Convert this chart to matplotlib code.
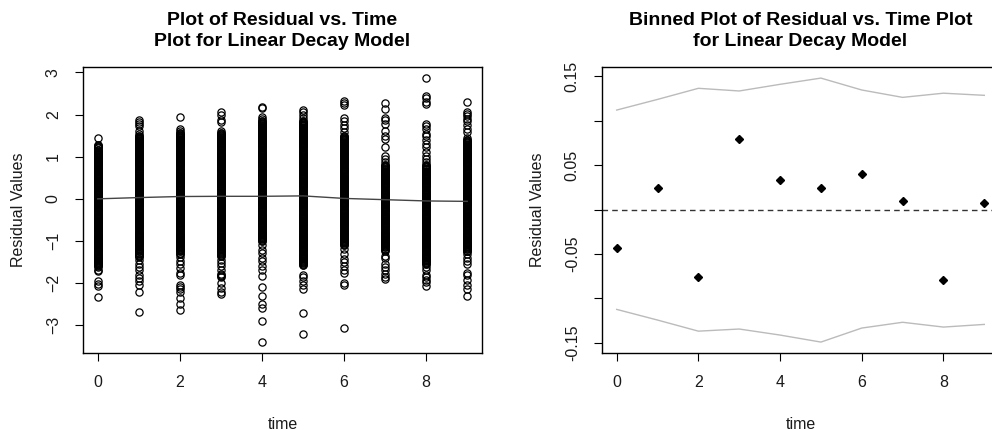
import numpy as np
import matplotlib
matplotlib.use('Agg')
import matplotlib.pyplot as plt

plt.rcParams['font.family'] = ['Liberation Sans', 'DejaVu Sans']

# residuals, one list per time value (outliers and spread)
res_t0 = [1.45, 1.27, 1.22, 1.17, 1.12, 1.06, 1.01, 0.96, 0.91, 0.85, 0.80, 0.75, 0.70, 0.64, 0.59, 0.54,
          0.49, 0.43, 0.38, 0.33, 0.28, 0.22, 0.17, 0.12, 0.07, 0.01, -0.04, -0.09, -0.14, -0.20, -0.25,
          -0.30, -0.35, -0.41, -0.46, -0.51, -0.56, -0.62, -0.67, -0.72, -0.77, -0.83, -0.88, -0.93, -0.98,
          -1.04, -1.09, -1.14, -1.19, -1.25, -1.30, -1.35, -1.40, -1.46, -1.51, -1.56, -1.61, -1.68, -1.72,
          -1.95, -2.01, -2.06, -2.32]
res_t1 = [1.88, 1.83, 1.78, 1.72, 1.62, 1.55, 1.50, 1.45, 1.40, 1.34, 1.29, 1.24, 1.19, 1.13, 1.08, 1.03,
          0.98, 0.92, 0.87, 0.82, 0.77, 0.71, 0.66, 0.61, 0.56, 0.50, 0.45, 0.40, 0.35, 0.29, 0.24, 0.19,
          0.14, 0.08, 0.03, -0.02, -0.07, -0.13, -0.18, -0.23, -0.28, -0.34, -0.39, -0.44, -0.49, -0.55,
          -0.60, -0.65, -0.70, -0.76, -0.81, -0.86, -0.91, -0.97, -1.02, -1.07, -1.12, -1.18, -1.23, -1.28,
          -1.35, -1.38, -1.45, -1.55, -1.62, -1.70, -1.80, -1.88, -1.95, -2.04, -2.22, -2.68]
res_t2 = [1.94, 1.66, 1.61, 1.56, 1.51, 1.46, 1.40, 1.35, 1.30, 1.25, 1.19, 1.14, 1.09, 1.04, 0.98, 0.93,
          0.88, 0.83, 0.77, 0.72, 0.67, 0.62, 0.56, 0.51, 0.46, 0.41, 0.35, 0.30, 0.25, 0.20, 0.14, 0.09,
          0.04, -0.01, -0.07, -0.12, -0.17, -0.22, -0.28, -0.33, -0.38, -0.43, -0.49, -0.54, -0.59, -0.64,
          -0.70, -0.75, -0.80, -0.85, -0.91, -0.96, -1.01, -1.06, -1.12, -1.17, -1.22, -1.30, -1.38, -1.47,
          -1.55, -1.65, -1.76, -1.80, -2.05, -2.10, -2.15, -2.20, -2.35, -2.50, -2.64]
res_t3 = [2.05, 1.98, 1.88, 1.82, 1.62, 1.57, 1.52, 1.47, 1.41, 1.36, 1.31, 1.26, 1.20, 1.15, 1.10, 1.05,
          0.99, 0.94, 0.89, 0.84, 0.78, 0.73, 0.68, 0.63, 0.57, 0.52, 0.47, 0.42, 0.36, 0.31, 0.26, 0.21,
          0.15, 0.10, 0.05, 0.00, -0.06, -0.11, -0.16, -0.21, -0.27, -0.32, -0.37, -0.42, -0.48, -0.53,
          -0.58, -0.63, -0.69, -0.74, -0.79, -0.84, -0.90, -0.95, -1.00, -1.05, -1.11, -1.16, -1.21, -1.27,
          -1.35, -1.45, -1.52, -1.60, -1.70, -1.78, -1.85, -2.00, -2.12, -2.20, -2.26]
res_t4 = [2.18, 2.15, 1.95, 1.90, 1.85, 1.80, 1.74, 1.69, 1.64, 1.59, 1.53, 1.48, 1.43, 1.38, 1.32, 1.27,
          1.22, 1.17, 1.11, 1.06, 1.01, 0.96, 0.90, 0.85, 0.80, 0.75, 0.69, 0.64, 0.59, 0.54, 0.48, 0.43,
          0.38, 0.33, 0.27, 0.22, 0.17, 0.12, 0.06, 0.01, -0.04, -0.09, -0.15, -0.20, -0.25, -0.30, -0.36,
          -0.41, -0.46, -0.51, -0.57, -0.62, -0.67, -0.72, -0.78, -0.83, -0.88, -0.93, -1.00, -1.10, -1.22,
          -1.28, -1.40, -1.48, -1.60, -1.68, -1.84, -2.10, -2.30, -2.50, -2.60, -2.90, -3.40]
res_t5 = [2.11, 2.05, 1.98, 1.92, 1.85, 1.80, 1.75, 1.69, 1.64, 1.59, 1.54, 1.48, 1.43, 1.38, 1.33, 1.27,
          1.22, 1.17, 1.12, 1.06, 1.01, 0.96, 0.91, 0.85, 0.80, 0.75, 0.70, 0.64, 0.59, 0.54, 0.49, 0.43,
          0.38, 0.33, 0.28, 0.22, 0.17, 0.12, 0.07, 0.01, -0.04, -0.09, -0.14, -0.20, -0.25, -0.30, -0.35,
          -0.41, -0.46, -0.51, -0.56, -0.62, -0.67, -0.72, -0.77, -0.83, -0.88, -0.93, -0.98, -1.04, -1.09,
          -1.14, -1.19, -1.25, -1.30, -1.35, -1.40, -1.46, -1.51, -1.57, -1.80, -1.86, -1.95, -2.05, -2.13,
          -2.70, -3.21]
res_t6 = [2.33, 2.28, 2.23, 1.92, 1.85, 1.75, 1.68, 1.58, 1.50, 1.45, 1.39, 1.34, 1.29, 1.24, 1.18, 1.13,
          1.08, 1.03, 0.97, 0.92, 0.87, 0.82, 0.76, 0.71, 0.66, 0.61, 0.55, 0.50, 0.45, 0.40, 0.34, 0.29,
          0.24, 0.19, 0.13, 0.08, 0.03, -0.02, -0.08, -0.13, -0.18, -0.23, -0.29, -0.34, -0.39, -0.44,
          -0.50, -0.55, -0.60, -0.65, -0.71, -0.76, -0.81, -0.86, -0.92, -0.97, -1.02, -1.10, -1.20, -1.30,
          -1.42, -1.50, -1.60, -1.68, -1.75, -2.00, -2.05, -3.07]
res_t7 = [2.27, 2.14, 1.92, 1.86, 1.78, 1.62, 1.48, 1.42, 1.22, 1.02, 0.95, 0.88, 0.80, 0.75, 0.69, 0.64,
          0.59, 0.54, 0.48, 0.43, 0.38, 0.33, 0.27, 0.22, 0.17, 0.12, 0.06, 0.01, -0.04, -0.09, -0.15,
          -0.20, -0.25, -0.30, -0.36, -0.41, -0.46, -0.51, -0.57, -0.62, -0.67, -0.72, -0.78, -0.83, -0.88,
          -0.93, -0.99, -1.04, -1.09, -1.14, -1.22, -1.35, -1.40, -1.55, -1.62, -1.70, -1.78, -1.86, -1.91]
res_t8 = [2.86, 2.45, 2.39, 2.29, 2.25, 1.78, 1.72, 1.66, 1.55, 1.48, 1.40, 1.30, 1.22, 1.12, 1.02, 0.95,
          0.88, 0.80, 0.75, 0.70, 0.64, 0.59, 0.54, 0.49, 0.43, 0.38, 0.33, 0.28, 0.22, 0.17, 0.12, 0.07,
          0.01, -0.04, -0.09, -0.14, -0.20, -0.25, -0.30, -0.35, -0.41, -0.46, -0.51, -0.56, -0.62, -0.67,
          -0.72, -0.77, -0.83, -0.88, -0.93, -0.98, -1.04, -1.09, -1.14, -1.19, -1.25, -1.30, -1.35, -1.40,
          -1.46, -1.55, -1.62, -1.68, -1.80, -1.86, -1.92, -1.98, -2.06]
res_t9 = [2.30, 2.06, 2.02, 1.96, 1.90, 1.84, 1.75, 1.65, 1.58, 1.45, 1.40, 1.35, 1.29, 1.24, 1.19, 1.14,
          1.08, 1.03, 0.98, 0.93, 0.87, 0.82, 0.77, 0.72, 0.66, 0.61, 0.56, 0.51, 0.45, 0.40, 0.35, 0.30,
          0.24, 0.19, 0.14, 0.09, 0.03, -0.02, -0.07, -0.12, -0.18, -0.23, -0.28, -0.33, -0.39, -0.44,
          -0.49, -0.54, -0.60, -0.65, -0.70, -0.75, -0.81, -0.86, -0.91, -0.96, -1.02, -1.07, -1.12, -1.17,
          -1.25, -1.32, -1.40, -1.48, -1.55, -1.75, -1.82, -1.92, -2.05, -2.15, -2.30]

# the solid black cores of each column, where the circles pile on top of each other
core_t0 = [1.27, 1.25, 1.22, 1.20, 1.17, 1.15, 1.12, 1.10, 1.07, 1.05, 1.02,
           1.00, 0.97, 0.95, 0.92, 0.90, 0.87, 0.85, 0.82, 0.80, 0.77, 0.75, 0.72, 0.70, 0.67, 0.65, 0.62,
           0.60, 0.57, 0.55, 0.52, 0.50, 0.47, 0.45, 0.42, 0.40, 0.37, 0.35, 0.32, 0.30, 0.27, 0.25, 0.22,
           0.20, 0.17, 0.15, 0.12, 0.10, 0.07, 0.05, 0.02,
           0.00, -0.03, -0.05, -0.08, -0.10, -0.13, -0.15, -0.18, -0.20, -0.23, -0.25, -0.28, -0.30, -0.33,
           -0.35, -0.38, -0.40, -0.43, -0.45, -0.48, -0.50, -0.53, -0.55, -0.58, -0.60, -0.63, -0.65, -0.68,
           -0.70, -0.73, -0.75, -0.78, -0.80, -0.83, -0.85, -0.88, -0.90, -0.93, -0.95, -0.98,
           -1.00, -1.03, -1.05, -1.08, -1.10, -1.13, -1.15, -1.18, -1.20, -1.23, -1.25, -1.28, -1.30, -1.33,
           -1.35, -1.38, -1.40, -1.43, -1.45, -1.48, -1.50, -1.53, -1.55, -1.58, -1.60]
core_t1 = [1.50, 1.47, 1.45, 1.42, 1.40, 1.37, 1.35, 1.32, 1.30, 1.27, 1.25, 1.22, 1.20, 1.17, 1.15, 1.12,
           1.10, 1.07, 1.05, 1.02,
           1.00, 0.97, 0.95, 0.92, 0.90, 0.87, 0.85, 0.82, 0.80, 0.77, 0.75, 0.72, 0.70, 0.67, 0.65, 0.62,
           0.60, 0.57, 0.55, 0.52, 0.50, 0.47, 0.45, 0.42, 0.40, 0.37, 0.35, 0.32, 0.30, 0.27, 0.25, 0.22,
           0.20, 0.17, 0.15, 0.12, 0.10, 0.07, 0.05, 0.02,
           0.00, -0.03, -0.05, -0.08, -0.10, -0.13, -0.15, -0.18, -0.20, -0.23, -0.25, -0.28, -0.30, -0.33,
           -0.35, -0.38, -0.40, -0.43, -0.45, -0.48, -0.50, -0.53, -0.55, -0.58, -0.60, -0.63, -0.65, -0.68,
           -0.70, -0.73, -0.75, -0.78, -0.80, -0.83, -0.85, -0.88, -0.90, -0.93, -0.95, -0.98,
           -1.00, -1.03, -1.05, -1.08, -1.10, -1.13, -1.15, -1.18, -1.20, -1.23, -1.25, -1.28, -1.30, -1.33,
           -1.35]
core_t2 = [1.57, 1.55, 1.52, 1.50, 1.47, 1.45, 1.42, 1.40, 1.37, 1.35, 1.32, 1.30, 1.27, 1.25, 1.22, 1.20,
           1.17, 1.15, 1.12, 1.10, 1.07, 1.05, 1.02,
           1.00, 0.97, 0.95, 0.92, 0.90, 0.87, 0.85, 0.82, 0.80, 0.77, 0.75, 0.72, 0.70, 0.67, 0.65, 0.62,
           0.60, 0.57, 0.55, 0.52, 0.50, 0.47, 0.45, 0.42, 0.40, 0.37, 0.35, 0.32, 0.30, 0.27, 0.25, 0.22,
           0.20, 0.17, 0.15, 0.12, 0.10, 0.07, 0.05, 0.02,
           0.00, -0.03, -0.05, -0.08, -0.10, -0.13, -0.15, -0.18, -0.20, -0.23, -0.25, -0.28, -0.30, -0.33,
           -0.35, -0.38, -0.40, -0.43, -0.45, -0.48, -0.50, -0.53, -0.55, -0.58, -0.60, -0.63, -0.65, -0.68,
           -0.70, -0.73, -0.75, -0.78, -0.80, -0.83, -0.85, -0.88, -0.90, -0.93, -0.95, -0.98,
           -1.00, -1.03, -1.05, -1.08, -1.10, -1.13, -1.15, -1.18, -1.20, -1.23, -1.25, -1.28, -1.30]
core_t3 = [1.57, 1.55, 1.52, 1.50, 1.47, 1.45, 1.42, 1.40, 1.37, 1.35, 1.32, 1.30, 1.27, 1.25, 1.22, 1.20,
           1.17, 1.15, 1.12, 1.10, 1.07, 1.05, 1.02,
           1.00, 0.97, 0.95, 0.92, 0.90, 0.87, 0.85, 0.82, 0.80, 0.77, 0.75, 0.72, 0.70, 0.67, 0.65, 0.62,
           0.60, 0.57, 0.55, 0.52, 0.50, 0.47, 0.45, 0.42, 0.40, 0.37, 0.35, 0.32, 0.30, 0.27, 0.25, 0.22,
           0.20, 0.17, 0.15, 0.12, 0.10, 0.07, 0.05, 0.02,
           0.00, -0.03, -0.05, -0.08, -0.10, -0.13, -0.15, -0.18, -0.20, -0.23, -0.25, -0.28, -0.30, -0.33,
           -0.35, -0.38, -0.40, -0.43, -0.45, -0.48, -0.50, -0.53, -0.55, -0.58, -0.60, -0.63, -0.65, -0.68,
           -0.70, -0.73, -0.75, -0.78, -0.80, -0.83, -0.85, -0.88, -0.90, -0.93, -0.95, -0.98,
           -1.00, -1.03, -1.05, -1.08, -1.10, -1.13, -1.15, -1.18, -1.20, -1.23, -1.25, -1.28, -1.30, -1.33,
           -1.35, -1.80, -1.83]
core_t4 = [1.85, 1.82, 1.80, 1.77, 1.75, 1.72, 1.70, 1.67, 1.65, 1.62, 1.60, 1.57, 1.55, 1.52, 1.50, 1.47,
           1.45, 1.42, 1.40, 1.37, 1.35, 1.32, 1.30, 1.27, 1.25, 1.22, 1.20, 1.17, 1.15, 1.12, 1.10, 1.07,
           1.05, 1.02,
           1.00, 0.97, 0.95, 0.92, 0.90, 0.87, 0.85, 0.82, 0.80, 0.77, 0.75, 0.72, 0.70, 0.67, 0.65, 0.62,
           0.60, 0.57, 0.55, 0.52, 0.50, 0.47, 0.45, 0.42, 0.40, 0.37, 0.35, 0.32, 0.30, 0.27, 0.25, 0.22,
           0.20, 0.17, 0.15, 0.12, 0.10, 0.07, 0.05, 0.02,
           0.00, -0.03, -0.05, -0.08, -0.10, -0.13, -0.15, -0.18, -0.20, -0.23, -0.25, -0.28, -0.30, -0.33,
           -0.35, -0.38, -0.40, -0.43, -0.45, -0.48, -0.50, -0.53, -0.55, -0.58, -0.60, -0.63, -0.65, -0.68,
           -0.70, -0.73, -0.75, -0.78, -0.80, -0.83, -0.85, -0.88, -0.90, -0.93, -0.95, -0.98, -1.00]
core_t5 = [1.85, 1.82, 1.80, 1.77, 1.75, 1.72, 1.70, 1.67, 1.65, 1.62, 1.60, 1.57, 1.55, 1.52, 1.50, 1.47,
           1.45, 1.42, 1.40, 1.37, 1.35, 1.32, 1.30, 1.27, 1.25, 1.22, 1.20, 1.17, 1.15, 1.12, 1.10, 1.07,
           1.05, 1.02,
           1.00, 0.97, 0.95, 0.92, 0.90, 0.87, 0.85, 0.82, 0.80, 0.77, 0.75, 0.72, 0.70, 0.67, 0.65, 0.62,
           0.60, 0.57, 0.55, 0.52, 0.50, 0.47, 0.45, 0.42, 0.40, 0.37, 0.35, 0.32, 0.30, 0.27, 0.25, 0.22,
           0.20, 0.17, 0.15, 0.12, 0.10, 0.07, 0.05, 0.02,
           0.00, -0.03, -0.05, -0.08, -0.10, -0.13, -0.15, -0.18, -0.20, -0.23, -0.25, -0.28, -0.30, -0.33,
           -0.35, -0.38, -0.40, -0.43, -0.45, -0.48, -0.50, -0.53, -0.55, -0.58, -0.60, -0.63, -0.65, -0.68,
           -0.70, -0.73, -0.75, -0.78, -0.80, -0.83, -0.85, -0.88, -0.90, -0.93, -0.95, -0.98,
           -1.00, -1.03, -1.05, -1.08, -1.10, -1.13, -1.15, -1.18, -1.20, -1.23, -1.25, -1.28, -1.30, -1.33,
           -1.35, -1.38, -1.40, -1.43, -1.45, -1.48, -1.50, -1.53, -1.55, -1.58]
core_t6 = [1.50, 1.47, 1.45, 1.42, 1.40, 1.37, 1.35, 1.32, 1.30, 1.27, 1.25, 1.22, 1.20, 1.17, 1.15, 1.12,
           1.10, 1.07, 1.05, 1.02,
           1.00, 0.97, 0.95, 0.92, 0.90, 0.87, 0.85, 0.82, 0.80, 0.77, 0.75, 0.72, 0.70, 0.67, 0.65, 0.62,
           0.60, 0.57, 0.55, 0.52, 0.50, 0.47, 0.45, 0.42, 0.40, 0.37, 0.35, 0.32, 0.30, 0.27, 0.25, 0.22,
           0.20, 0.17, 0.15, 0.12, 0.10, 0.07, 0.05, 0.02,
           0.00, -0.03, -0.05, -0.08, -0.10, -0.13, -0.15, -0.18, -0.20, -0.23, -0.25, -0.28, -0.30, -0.33,
           -0.35, -0.38, -0.40, -0.43, -0.45, -0.48, -0.50, -0.53, -0.55, -0.58, -0.60, -0.63, -0.65, -0.68,
           -0.70, -0.73, -0.75, -0.78, -0.80, -0.83, -0.85, -0.88, -0.90, -0.93, -0.95, -0.98,
           -1.00, -1.03, -1.05, -1.08, -1.10]
core_t7 = [0.80, 0.77, 0.75, 0.72, 0.70, 0.67, 0.65, 0.62,
           0.60, 0.57, 0.55, 0.52, 0.50, 0.47, 0.45, 0.42, 0.40, 0.37, 0.35, 0.32, 0.30, 0.27, 0.25, 0.22,
           0.20, 0.17, 0.15, 0.12, 0.10, 0.07, 0.05, 0.02,
           0.00, -0.03, -0.05, -0.08, -0.10, -0.13, -0.15, -0.18, -0.20, -0.23, -0.25, -0.28, -0.30, -0.33,
           -0.35, -0.38, -0.40, -0.43, -0.45, -0.48, -0.50, -0.53, -0.55, -0.58, -0.60, -0.63, -0.65, -0.68,
           -0.70, -0.73, -0.75, -0.78, -0.80, -0.83, -0.85, -0.88, -0.90, -0.93, -0.95, -0.98,
           -1.00, -1.03, -1.05, -1.08, -1.10, -1.13, -1.15, -1.18, -1.20, -1.23]
core_t8 = [0.80, 0.77, 0.75, 0.72, 0.70, 0.67, 0.65, 0.62,
           0.60, 0.57, 0.55, 0.52, 0.50, 0.47, 0.45, 0.42, 0.40, 0.37, 0.35, 0.32, 0.30, 0.27, 0.25, 0.22,
           0.20, 0.17, 0.15, 0.12, 0.10, 0.07, 0.05, 0.02,
           0.00, -0.03, -0.05, -0.08, -0.10, -0.13, -0.15, -0.18, -0.20, -0.23, -0.25, -0.28, -0.30, -0.33,
           -0.35, -0.38, -0.40, -0.43, -0.45, -0.48, -0.50, -0.53, -0.55, -0.58, -0.60, -0.63, -0.65, -0.68,
           -0.70, -0.73, -0.75, -0.78, -0.80, -0.83, -0.85, -0.88, -0.90, -0.93, -0.95, -0.98,
           -1.00, -1.03, -1.05, -1.08, -1.10, -1.13, -1.15, -1.18, -1.20, -1.23, -1.25, -1.28, -1.30, -1.33,
           -1.35, -1.38, -1.40, -1.43, -1.45, -1.48, -1.50, -1.53, -1.55]
core_t9 = [1.40, 1.37, 1.35, 1.32, 1.30, 1.27, 1.25, 1.22, 1.20, 1.17, 1.15, 1.12, 1.10, 1.07, 1.05, 1.02,
           1.00, 0.97, 0.95, 0.92, 0.90, 0.87, 0.85, 0.82, 0.80, 0.77, 0.75, 0.72, 0.70, 0.67, 0.65, 0.62,
           0.60, 0.57, 0.55, 0.52, 0.50, 0.47, 0.45, 0.42, 0.40, 0.37, 0.35, 0.32, 0.30, 0.27, 0.25, 0.22,
           0.20, 0.17, 0.15, 0.12, 0.10, 0.07, 0.05, 0.02,
           0.00, -0.03, -0.05, -0.08, -0.10, -0.13, -0.15, -0.18, -0.20, -0.23, -0.25, -0.28, -0.30, -0.33,
           -0.35, -0.38, -0.40, -0.43, -0.45, -0.48, -0.50, -0.53, -0.55, -0.58, -0.60, -0.63, -0.65, -0.68,
           -0.70, -0.73, -0.75, -0.78, -0.80, -0.83, -0.85, -0.88, -0.90, -0.93, -0.95, -0.98,
           -1.00, -1.03, -1.05, -1.08, -1.10, -1.13, -1.15, -1.18, -1.20, -1.23, -1.25]

residuals = [res_t0, res_t1, res_t2, res_t3, res_t4, res_t5, res_t6, res_t7, res_t8, res_t9]
cores = [core_t0, core_t1, core_t2, core_t3, core_t4, core_t5, core_t6, core_t7, core_t8, core_t9]

time = [0, 1, 2, 3, 4, 5, 6, 7, 8, 9]
smooth = [0.00, 0.03, 0.055, 0.06, 0.06, 0.07, 0.01, -0.02, -0.05, -0.06]

# binned residual plot
bin_mean = [-0.043, 0.024, -0.076, 0.079, 0.033, 0.024, 0.040, 0.0096, -0.079, 0.0073]
bin_upper = [0.112, 0.124, 0.1365, 0.1335, 0.141, 0.148, 0.1346, 0.1263, 0.131, 0.1286]
bin_lower = [-0.1125, -0.1245, -0.137, -0.1346, -0.1414, -0.1493, -0.1335, -0.127, -0.1324, -0.1294]

fig = plt.figure(figsize=(9.92, 4.3), dpi=100)
W, H = 992, 430
ax1 = fig.add_axes([83 / W, 1 - 353 / H, (482 - 83) / W, (353 - 67) / H])
ax2 = fig.add_axes([602 / W, 1 - 353 / H, (999 - 602) / W, (353 - 67) / H])

txt = '#1a1a1a'

for t, vals, core in zip(time, residuals, cores):
    allv = vals + core
    ax1.plot([t] * len(allv), allv, 'o', mfc='none', mec='black', ms=5.2, mew=0.9, ls='none')
ax1.plot(time, smooth, color='#444444', lw=1)
ax1.set_xlim(-0.36, 9.36)
ax1.set_ylim(-3.66, 3.13)
ax1.set_yticks([-3, -2, -1, 0, 1, 2, 3])
ax1.set_title('Plot of Residual vs. Time\nPlot for Linear Decay Model', fontsize=14, fontweight='bold',
              pad=15, linespacing=1.35)

ax2.plot(time, bin_upper, color='#bbbbbb', lw=1)
ax2.plot(time, bin_lower, color='#bbbbbb', lw=1)
ax2.axhline(0, color='#333333', lw=1, ls=(0, (4, 3)))
ax2.plot(time, bin_mean, 'D', color='black', ms=3.6)
ax2.set_xlim(-0.36, 9.36)
ax2.set_ylim(-0.1616, 0.1605)
ax2.set_yticks([-0.15, -0.10, -0.05, 0.0, 0.05, 0.10, 0.15])
ax2.set_yticklabels(['-0.15', '', '-0.05', '', '0.05', '', '0.15'])
ax2.set_title('Binned Plot of Residual vs. Time Plot\nfor Linear Decay Model', fontsize=14,
              fontweight='bold', pad=15, linespacing=1.35)

for ax in (ax1, ax2):
    ax.set_xticks([0, 2, 4, 6, 8])
    ax.tick_params(direction='out', length=6, width=0.8, labelsize=11.5, colors='black',
                   labelcolor=txt, pad=10)
    for lab in ax.get_yticklabels():
        lab.set_rotation(90)
        lab.set_va('center')
    for s in ax.spines.values():
        s.set_linewidth(1)
    ax.set_xlabel('time', fontsize=11.5, color=txt, labelpad=19)
    ax.set_ylabel('Residual Values', fontsize=11.5, color=txt, labelpad=14)

fig.savefig('out.png', dpi=100)
